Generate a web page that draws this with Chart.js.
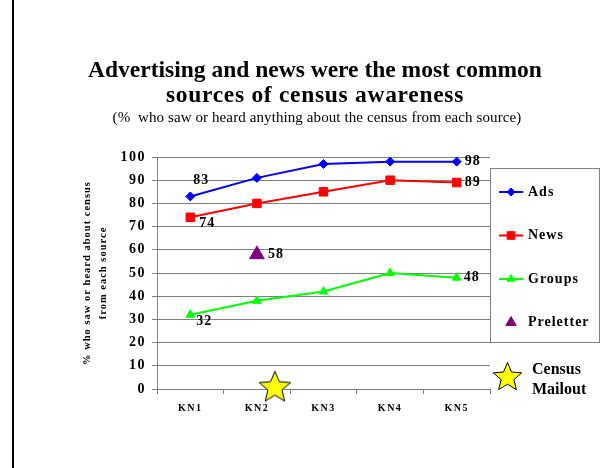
<!DOCTYPE html>
<html>
    <head>
        <title>Census awareness</title>
        <script src="https://cdn.jsdelivr.net/npm/chart.js@4.2.1/dist/chart.umd.min.js"></script>
        <style>
            body { margin: 0; background: white; }
        </style>
    </head>
    <body>
        <canvas id="awarenessChart" width="610" height="468"></canvas>
        <script>
            const waves = ["KN1", "KN2", "KN3", "KN4", "KN5"];
            const ads = [83, 91, 97, 98, 98];
            const news = [74, 80, 85, 90, 89];
            const groups = [32, 38, 42, 50, 48];
            const preletter = [null, 58, null, null, null];
            // mailout sits between KN2 and KN3, x counted in waves (1 = KN1)
            const mailout = [{ x: 2.27, y: 1.5 }];

            const titleLines = ["Advertising and news were the most common", "sources of census awareness"];
            const subtitle = "(%  who saw or heard anything about the census from each source)";
            const yTitle = ["% who saw or heard about census", "from each source"];
            const serif = "'Liberation Serif', 'Times New Roman', serif";

            const makeStar = (size) => {
                const c = document.createElement("canvas");
                c.width = size;
                c.height = size;
                const g = c.getContext("2d");
                const cx = size / 2, cy = size / 2 + size * 0.06, R = size / 2 - 1.5, r = R * 0.45;
                g.beginPath();
                for (let i = 0; i < 10; i++) {
                    const a = -Math.PI / 2 + i * Math.PI / 5;
                    const rr = i % 2 ? r : R;
                    g.lineTo(cx + rr * Math.cos(a), cy + rr * Math.sin(a));
                }
                g.closePath();
                g.fillStyle = "#FFFF00";
                g.fill();
                g.strokeStyle = "#000";
                g.lineWidth = 1;
                g.stroke();
                return c;
            };
            const bigStar = makeStar(36);
            const legendStar = makeStar(33);

            const createDataset = (name, data, color, style, radius) => {
                return {
                    label: name,
                    data: data,
                    borderColor: color,
                    backgroundColor: color,
                    borderWidth: 2,
                    pointStyle: style,
                    pointRadius: radius,
                    pointBorderWidth: 1,
                    tension: 0,
                    fill: false,
                };
            };

            const datasets = [
                createDataset("Ads", ads, "#0000FF", "rectRot", 4.5),
                createDataset("News", news, "#FF0000", "rect", 6),
                createDataset("Groups", groups, "#00FF00", "triangle", 5),
                Object.assign(createDataset("Preletter", preletter, "#800080", "triangle", 8.5), { showLine: false }),
                {
                    label: "Census Mailout",
                    data: mailout,
                    xAxisID: "xTime",
                    showLine: false,
                    clip: false,
                    pointStyle: bigStar,
                    pointRadius: 18,
                },
            ];

            // which points get a value label, and where it sits next to the point
            const valueLabels = [
                { ds: 0, i: 0, dx: 3, dy: -16 },
                { ds: 0, i: 4, dx: 8, dy: 0 },
                { ds: 1, i: 0, dx: 9, dy: 6 },
                { ds: 1, i: 4, dx: 8, dy: 0 },
                { ds: 2, i: 0, dx: 6, dy: 7 },
                { ds: 2, i: 4, dx: 7, dy: 0 },
                { ds: 3, i: 1, dx: 11, dy: 0 },
            ];

            const decorations = {
                id: "decorations",
                beforeDraw: (chart) => {
                    chart.ctx.letterSpacing = "1.5px";
                },
                afterDraw: (chart) => {
                    const ctx = chart.ctx;
                    const area = chart.chartArea;
                    ctx.save();

                    ctx.fillStyle = "#000";
                    ctx.fillRect(12, 0, 2, chart.height);

                    // titles
                    ctx.textAlign = "center";
                    ctx.textBaseline = "alphabetic";
                    ctx.letterSpacing = "0px";
                    ctx.font = `bold 23.5px ${serif}`;
                    ctx.fillText(titleLines[0], 315, 77);
                    ctx.letterSpacing = "0.7px";
                    ctx.fillText(titleLines[1], 315, 102);
                    ctx.letterSpacing = "0.1px";
                    ctx.font = `15px ${serif}`;
                    ctx.fillText(subtitle, 317, 122);

                    // y axis title
                    ctx.textBaseline = "middle";
                    ctx.save();
                    ctx.translate(area.left - 70, (area.top + area.bottom) / 2);
                    ctx.rotate(-Math.PI / 2);
                    ctx.font = `bold 10.5px ${serif}`;
                    ctx.letterSpacing = "1px";
                    ctx.fillText(yTitle[0], 0, 0);
                    ctx.fillText(yTitle[1], 0, 16);
                    ctx.restore();

                    // value labels
                    ctx.font = `bold 14px ${serif}`;
                    ctx.letterSpacing = "1px";
                    ctx.textAlign = "left";
                    valueLabels.forEach(l => {
                        const pt = chart.getDatasetMeta(l.ds).data[l.i];
                        ctx.fillText(String(chart.data.datasets[l.ds].data[l.i]), pt.x + l.dx, pt.y + l.dy);
                    });

                    // legend box
                    const boxLeft = area.right;
                    const boxTop = area.top + 11;
                    ctx.strokeStyle = "#808080";
                    ctx.lineWidth = 1;
                    ctx.strokeRect(boxLeft + 0.5, boxTop + 0.5, 109, 174);
                    datasets.slice(0, 4).forEach((ds, k) => {
                        const y = boxTop + 24 + k * 43.5;
                        if (ds.showLine !== false) {
                            ctx.strokeStyle = ds.borderColor;
                            ctx.lineWidth = 2;
                            ctx.beginPath();
                            ctx.moveTo(boxLeft + 9, y);
                            ctx.lineTo(boxLeft + 33, y);
                            ctx.stroke();
                        }
                        ctx.fillStyle = ds.backgroundColor;
                        ctx.strokeStyle = ds.borderColor;
                        ctx.lineWidth = 1;
                        Chart.helpers.drawPoint(ctx, {
                            pointStyle: ds.pointStyle,
                            rotation: 0,
                            borderWidth: 1,
                            radius: ds.showLine === false ? 6 : ds.pointRadius * 0.9,
                        }, boxLeft + 21, y);
                        ctx.fillStyle = "#000";
                        ctx.fillText(ds.label, boxLeft + 38, y);
                    });

                    // census mailout key
                    ctx.drawImage(legendStar, boxLeft + 17 - 16, area.top + 218 - 16);
                    ctx.font = `bold 16px ${serif}`;
                    ctx.letterSpacing = "0px";
                    ctx.fillText("Census", boxLeft + 42, area.top + 213);
                    ctx.fillText("Mailout", boxLeft + 42, area.top + 233);

                    ctx.restore();
                },
            };

            const chart = new Chart(document.getElementById("awarenessChart"), {
                type: "line",
                data: {
                    labels: waves,
                    datasets: datasets,
                },
                options: {
                    responsive: false,
                    animation: false,
                    devicePixelRatio: 1,
                    layout: {
                        padding: { left: 0, top: 157, right: 120, bottom: 0 },
                    },
                    plugins: {
                        legend: { display: false },
                        tooltip: { enabled: false },
                    },
                    scales: {
                        x: {
                            offset: true,
                            grid: {
                                offset: true,
                                drawOnChartArea: false,
                                tickLength: 5,
                                color: "#808080",
                            },
                            border: { color: "#808080" },
                            ticks: {
                                color: "#000",
                                padding: 8,
                                font: { family: serif, size: 10, weight: "bold" },
                            },
                            afterFit: (s) => { s.height = 79; },
                        },
                        xTime: {
                            type: "linear",
                            display: false,
                            min: 0.5,
                            max: 5.5,
                        },
                        y: {
                            min: 0,
                            max: 100,
                            ticks: {
                                stepSize: 10,
                                color: "#000",
                                padding: 6,
                                font: { family: serif, size: 14, weight: "bold" },
                            },
                            grid: {
                                color: "#808080",
                                tickLength: 5,
                            },
                            border: { color: "#808080" },
                            afterFit: (s) => { s.width = 157; },
                        },
                    },
                },
                plugins: [decorations],
            });
        </script>
    </body>
</html>
